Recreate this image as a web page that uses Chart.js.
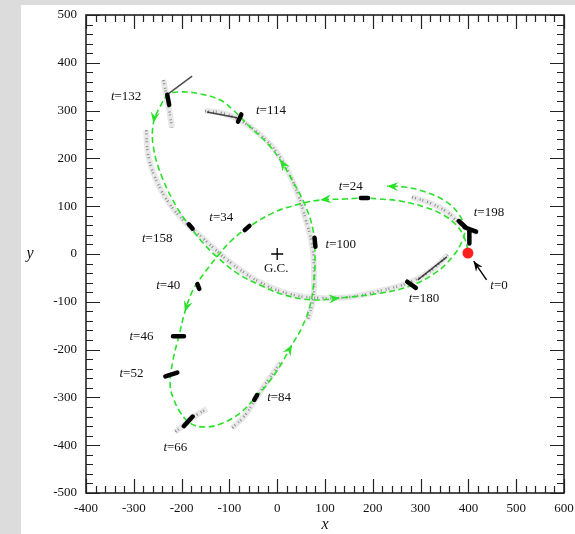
<!DOCTYPE html>
<html>
<head>
<meta charset="utf-8">
<script src="https://cdn.jsdelivr.net/npm/chart.js@4/dist/chart.umd.min.js"></script>
<style>
  body { margin: 0; background: #dcdcdc; }
  canvas { display: block; }
</style>
</head>
<body>
<canvas id="orbit" width="575" height="534"></canvas>
<script>
// orbit of the cluster centre (green dashed)
const orbitX = [399, 392, 376, 347, 309, 257, 215, 184, 142, 90, 41, -9, -63, -99, -126, -151, -176, -193, -205, -218,
  -224, -216, -203, -182, -151, -115, -78, -46, -19, 6, 31, 52, 69, 77, 79, 75, 58, 31, 6, -21,
  -57, -92, -119, -161, -203, -228, -245, -259, -259, -241, -209, -182, -155, -126, -84, -36, 16, 73, 131, 215,
  278, 330, 365, 386, 392, 378, 351, 309, 267, 230];
const orbitY = [8, 33, 59, 82, 98, 111, 115, 117, 115, 113, 103, 86, 54, 25, -6, -38, -75, -121, -169, -222,
  -274, -305, -331, -354, -362, -354, -333, -301, -270, -234, -190, -153, -107, -54, -2, 50, 103, 155, 197, 232,
  266, 301, 322, 335, 339, 333, 308, 274, 224, 161, 96, 57, 23, -6, -40, -65, -86, -96, -92, -82,
  -67, -40, -8, 25, 54, 86, 111, 130, 140, 142];
// orbit points that carry a direction arrow
const arrowAt = [9, 17, 30, 38, 47, 58, 69];

// tidal debris trails (grey speckle)
const trailAX = [-274, -270, -255, -228, -193, -151, -99, -36, 27, 90, 152, 215, 278, 324, 357];
const trailAY = [259, 207, 159, 109, 67, 29, -17, -59, -84, -92, -90, -77, -59, -33, -2];
const trailBX = [-151, -115, -78, -40, -5, 23, 44, 60, 73, 77, 75, 64];
const trailBY = [299, 295, 280, 253, 218, 172, 123, 71, 19, -33, -96, -138];
const trailCX = [-94, -67, -44, -19, 8];
const trailCY = [-364, -337, -301, -264, -226];
const trailDX = [-213, -193, -172, -147];
const trailDY = [-372, -356, -339, -324];
const trailEX = [-238, -232, -226, -220];
const trailEY = [364, 333, 301, 264];
const trailFX = [282, 319, 355, 378, 395, 420];
const trailFY = [119, 107, 88, 67, 54, 44];

// dense cluster bodies at each snapshot (null = break)
const clumpX = [175, 190, null, -68, -58, null, -167, -163, null, -218, -195, null, -234, -209, null, -195, -177, null,
  -48, -42, null, 78, 80, null, -82, -75, null, -230, -226, null, -185, -177, null, 272, 290, null, 380, 394, null, 392, 416, null, 402, 402];
const clumpY = [117, 117, null, 50, 59, null, -63, -73, null, -172, -172, null, -256, -248, null, -360, -340, null,
  -305, -295, null, 34, 15, null, 277, 292, null, 333, 312, null, 62, 53, null, -58, -71, null, 69, 56, null, 56, 47, null, 48, 22];
// thin dark tails
const streakX = [-147, -84, null, -228, -178, null, 294, 355];
const streakY = [297, 285, null, 335, 372, null, -54, -6];

// snapshot labels
const labelT = ['132', '114', '24', '198', '34', '158', '100', '40', '46', '52', '66', '84', '180', '0'];
const labelX = [-316, -13, 154, 443, -117, -251, 133, -228, -284, -305, -213, 4, 307, 464];
const labelY = [329, 301, 142, 86, 77, 33, 19, -67, -172, -251, -404, -301, -94, -67];

const startPoint = [{x: 399, y: 2}];
const centre = [{x: 0, y: 0}];
const startArrow = {fromX: 438, fromY: -54, toX: 411, toY: -15};

const GREEN = 'rgb(40,225,40)';
const SERIF = '"Liberation Serif", "Times New Roman", serif';

const pts = (xs, ys) => xs.map((x, i) => ({x: x, y: ys[i]}));
const join = (...lists) => lists.reduce((all, l, i) => i ? all.concat([{x: null, y: null}], l) : l, []);

const dust = join(pts(trailAX, trailAY), pts(trailBX, trailBY), pts(trailCX, trailCY),
  pts(trailDX, trailDY), pts(trailEX, trailEY), pts(trailFX, trailFY));

const head = (ctx, x, y, ang, len, half) => {
    ctx.save();
    ctx.translate(x, y);
    ctx.rotate(ang);
    ctx.beginPath();
    ctx.moveTo(0, 0);
    ctx.lineTo(-len, -half);
    ctx.lineTo(-len * 0.65, 0);
    ctx.lineTo(-len, half);
    ctx.closePath();
    ctx.fill();
    ctx.restore();
};

const deco = {
    id: 'deco',
    beforeDraw(chart) {
        const {ctx, width, height} = chart;
        ctx.save();
        ctx.fillStyle = '#dcdcdc';
        ctx.fillRect(0, 0, width, height);
        ctx.fillStyle = '#fff';
        ctx.fillRect(21, 5, width - 21, height - 5);
        ctx.restore();
    },
    afterDatasetsDraw(chart) {
        const {ctx, chartArea: a, scales: {x, y}} = chart;
        const px = v => x.getPixelForValue(v), py = v => y.getPixelForValue(v);
        ctx.save();

        // direction arrows on the orbit
        ctx.fillStyle = GREEN;
        for (const i of arrowAt) {
            const j = Math.min(i + 1, orbitX.length - 1), k = i - 1;
            const ang = Math.atan2(py(orbitY[j]) - py(orbitY[k]), px(orbitX[j]) - px(orbitX[k]));
            head(ctx, px(orbitX[i]), py(orbitY[i]), ang, 11, 4.5);
        }

        // t=0 pointer
        ctx.strokeStyle = '#000';
        ctx.fillStyle = '#000';
        ctx.lineWidth = 1.4;
        const x0 = px(startArrow.fromX), y0 = py(startArrow.fromY);
        const x1 = px(startArrow.toX), y1 = py(startArrow.toY);
        ctx.beginPath();
        ctx.moveTo(x0, y0);
        ctx.lineTo(x1, y1);
        ctx.stroke();
        head(ctx, x1, y1, Math.atan2(y1 - y0, x1 - x0), 10, 4);

        // labels
        const ital = `italic 13px ${SERIF}`, rom = `13px ${SERIF}`;
        ctx.textBaseline = 'middle';
        ctx.textAlign = 'left';
        ctx.fillStyle = '#111';
        labelT.forEach((t, i) => {
            ctx.font = ital;
            const w1 = ctx.measureText('t').width;
            ctx.font = rom;
            const w2 = ctx.measureText('=' + t).width;
            const sx = px(labelX[i]) - (w1 + w2) / 2, sy = py(labelY[i]);
            ctx.font = ital;
            ctx.fillText('t', sx, sy);
            ctx.font = rom;
            ctx.fillText('=' + t, sx + w1, sy);
        });
        ctx.textAlign = 'center';
        ctx.font = rom;
        ctx.fillText('G.C.', px(-2), py(-30));

        // inward ticks on all four sides
        ctx.strokeStyle = '#222';
        ctx.lineWidth = 1.2;
        ctx.beginPath();
        for (let v = -400; v <= 600; v += 20) {
            const len = v % 100 === 0 ? 14 : 7, X = Math.round(px(v)) + 0.5;
            ctx.moveTo(X, a.bottom); ctx.lineTo(X, a.bottom - len);
            ctx.moveTo(X, a.top); ctx.lineTo(X, a.top + len);
        }
        for (let v = -500; v <= 500; v += 20) {
            const len = v % 100 === 0 ? 14 : 7, Y = Math.round(py(v)) + 0.5;
            ctx.moveTo(a.left, Y); ctx.lineTo(a.left + len, Y);
            ctx.moveTo(a.right, Y); ctx.lineTo(a.right - len, Y);
        }
        ctx.stroke();
        ctx.lineWidth = 1.6;
        ctx.strokeRect(a.left, a.top, a.right - a.left, a.bottom - a.top);

        // upright y axis title
        ctx.font = `italic 16px ${SERIF}`;
        ctx.fillStyle = '#111';
        ctx.fillText('y', 30, py(0));
        ctx.restore();
    }
};

const tickFont = {family: SERIF, size: 13};

new Chart(document.getElementById('orbit'), {
    type: 'scatter',
    data: {
        datasets: [
            {data: startPoint, pointRadius: 5.5, backgroundColor: '#ff1f1f', borderWidth: 0},
            {data: centre, pointStyle: 'cross', pointRadius: 6, borderColor: '#000', borderWidth: 1.3},
            {data: pts(clumpX, clumpY), showLine: true, pointRadius: 0, borderColor: '#000',
             borderWidth: 4.5, borderCapStyle: 'round', tension: 0},
            {data: pts(streakX, streakY), showLine: true, pointRadius: 0, borderColor: 'rgba(0,0,0,0.7)',
             borderWidth: 1.5, tension: 0},
            {data: pts(orbitX, orbitY), showLine: true, pointRadius: 0, borderColor: GREEN,
             borderWidth: 1.6, borderDash: [6, 3.5], tension: 0.4},
            {data: dust, showLine: true, pointRadius: 0, borderColor: 'rgba(0,0,0,0.4)',
             borderWidth: 2.5, borderDash: [1, 2, 1, 4], tension: 0.4},
            {data: dust, showLine: true, pointRadius: 0, borderColor: 'rgba(0,0,0,0.09)',
             borderWidth: 6, tension: 0.4}
        ]
    },
    options: {
        responsive: false,
        animation: false,
        events: [],
        layout: {padding: {left: 21, top: 15, right: 11, bottom: 0}},
        plugins: {legend: {display: false}, tooltip: {enabled: false}},
        scales: {
            x: {
                type: 'linear', min: -400, max: 600,
                grid: {display: false, drawTicks: false}, border: {display: false},
                ticks: {stepSize: 100, padding: 8, font: tickFont, color: '#111', maxRotation: 0},
                title: {display: true, text: 'x', color: '#111', padding: {top: 0, bottom: 0},
                        font: {family: SERIF, size: 16, style: 'italic'}},
                afterFit: s => { s.height = 41; s.paddingLeft = 0; s.paddingRight = 0; }
            },
            y: {
                type: 'linear', min: -500, max: 500,
                grid: {display: false, drawTicks: false}, border: {display: false},
                ticks: {stepSize: 100, padding: 9, font: tickFont, color: '#111'},
                afterFit: s => { s.width = 65; s.paddingTop = 0; s.paddingBottom = 0; }
            }
        }
    },
    plugins: [deco]
});
</script>
</body>
</html>
